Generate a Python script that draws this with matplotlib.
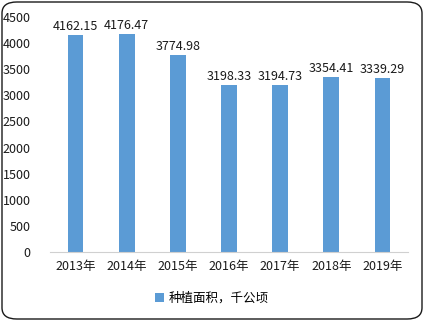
import matplotlib
matplotlib.use("Agg")
from matplotlib import pyplot as plt
from matplotlib.patches import FancyBboxPatch

plt.rcParams['font.family'] = ['Noto Sans CJK SC', 'DejaVu Sans']

years = ["2013年", "2014年", "2015年", "2016年", "2017年", "2018年", "2019年"]
area = [4162.15, 4176.47, 3774.98, 3198.33, 3194.73, 3354.41, 3339.29]
series_name = "种植面积，千公顷"

fig = plt.figure(figsize=(4.24, 3.21), dpi=100)
ax = fig.add_axes([50 / 424, 69 / 321, 358 / 424, 235 / 321])

x = range(len(years))
bars = ax.bar(x, area, width=0.31, color="#5B9BD5", label=series_name)
for xi, v in zip(x, area):
    ax.text(xi, v + 40, "%.2f" % v, ha="center", va="bottom", fontsize=9, color="#1a1a1a")

ax.set_xlim(-0.5, len(years) - 0.5)
ax.set_ylim(0, 4500)
ax.set_yticks(range(0, 4501, 500))
ax.set_xticks(list(x))
ax.set_xticklabels(years)
ax.tick_params(axis="both", length=0, labelsize=9, colors="#1a1a1a")
ax.tick_params(axis="y", pad=14)
ax.tick_params(axis="x", pad=6)
for s in ["top", "right", "left"]:
    ax.spines[s].set_visible(False)
ax.spines["bottom"].set_color("#d0d0d0")

fig.legend(handles=[bars], labels=[series_name], loc="center", bbox_to_anchor=(0.5, 23 / 321),
           frameon=False, fontsize=9, handlelength=0.7, handleheight=0.7, handletextpad=0.4)

border = FancyBboxPatch((2 / 424, 2 / 321), 420 / 424, 317 / 321,
                        boxstyle="round,pad=0,rounding_size=0.035",
                        transform=fig.transFigure, facecolor="none",
                        edgecolor="#1a1a1a", linewidth=1.0)
fig.patches.append(border)

fig.savefig("out.png", dpi=100)
